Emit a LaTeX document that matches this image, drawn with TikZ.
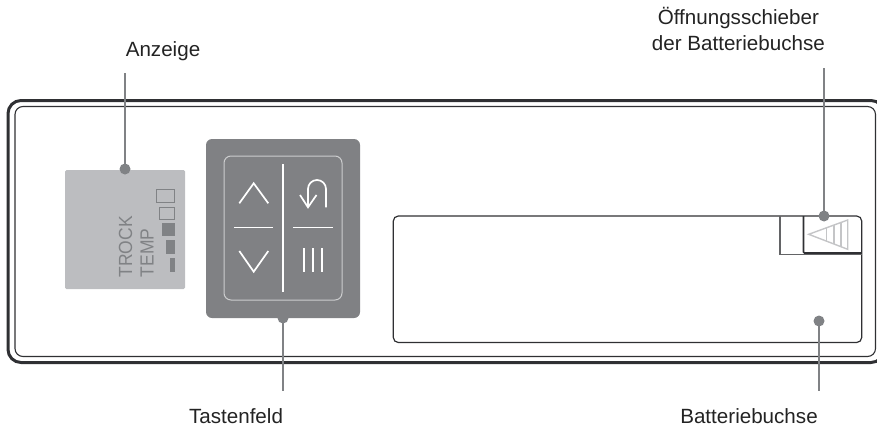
\documentclass[tikz,border=0pt]{standalone}
\usepackage{fontspec}
\setmainfont{Liberation Sans}
\definecolor{lbl}{HTML}{232323}
\definecolor{frame}{HTML}{2F3033}
\definecolor{lead}{HTML}{808285}
\definecolor{panel}{HTML}{BCBDC0}
\definecolor{pad}{HTML}{808184}
\definecolor{tri}{HTML}{C4C5C7}
\tikzset{
  lbltext/.style={font=\fontsize{20.6}{26}\selectfont,text=lbl,align=center,inner sep=0pt,anchor=base},
  leadline/.style={draw=lead,line width=1.4pt},
  leaddot/.style={circle,fill=lead,minimum size=11pt,inner sep=0pt},
  keyline/.style={draw=white,line width=1.7pt},
  seg/.style={draw=lead,line width=1pt},
  segfill/.style={fill=lead},
  disptext/.style={rotate=90,xscale=0.92,anchor=west,inner sep=0pt,font=\fontsize{19}{20}\selectfont,text=lead},
}
\begin{document}
\begin{tikzpicture}[x=1pt,y=-1pt]
\useasboundingbox (0,0) rectangle (877,428);
\clip (0,0) rectangle (877,428);
% housing
\draw[frame,line width=3pt,rounded corners=13pt] (8,100.5) rectangle (884,362.5);
\draw[frame,line width=1.1pt,rounded corners=8pt] (15,106.5) rectangle (875.5,356.5);
% display
\node[fill=panel,rounded corners=1.5pt,minimum width=120pt,minimum height=119pt,inner sep=0pt] (disp) at (125,229.5) {};
\node[disptext] (trock) at (125.5,277.5) {TROCK};
\node[disptext] (temp) at (147,277.5) {TEMP};
\draw[seg] (156,189.5) rectangle (174,202.5);
\draw[seg] (159.5,207) rectangle (174,219.5);
\fill[segfill] (162.3,223) rectangle (175,236.3);
\fill[segfill] (166.3,240) rectangle (175,254);
\fill[segfill] (170,258) rectangle (175,272);
% keypad leader first so the pad covers its dot
\coordinate (kbot) at (283,391);
\node[leaddot] (kdot) at (283,318) {};
\draw[leadline] (kdot.center) -- (kbot);
\node[fill=pad,rounded corners=6pt,minimum width=154pt,minimum height=179pt,inner sep=0pt] (keypad) at (283,228.5) {};
\draw[draw=white!60!pad,line width=1pt,rounded corners=7pt] (224,156) rectangle (342,300);
\draw[keyline,line width=1.3pt] (283,164) -- (283,292);
\draw[keyline,line width=1.3pt] (234,227.7) -- (273,227.7);
\draw[keyline,line width=1.3pt] (293.3,227.7) -- (332.7,227.7);
\draw[keyline] (239.3,203.3) -- (253.7,183.3) -- (268.3,203.3);
\draw[keyline] (239.3,251) -- (253.7,271.7) -- (268.3,251);
\draw[keyline] (304,248.3) -- (304,271.7) (313,248.3) -- (313,271.7) (322,248.3) -- (322,271.7);
\draw[keyline] (326,207.3) -- (326,189) arc[start angle=0,end angle=-180,x radius=9,y radius=9] -- (308,207.3);
\draw[keyline] (300,195) -- (308,207.3) -- (316.5,195);
% battery slot
\draw[frame,line width=1.2pt,rounded corners=5pt] (393.3,216) rectangle (861.7,342.5);
\draw[draw=frame!75!white,line width=1.1pt] (780,216) -- (780,254.3) -- (861.7,254.3);
\draw[draw=frame,line width=1.6pt,rounded corners=1pt] (803.5,216) -- (803.5,253) -- (861.7,253);
\draw[tri,line width=1.4pt] (808.7,234.3) -- (847.7,220) -- (847.7,249.3) -- cycle;
\draw[tri,line width=1.4pt] (826.7,227.5) -- (826.7,241.5) (834,225) -- (834,244.2) (841,222.5) -- (841,246.8);
% leaders and labels
\node[lbltext] (anz) at (163,56.7) {Anzeige};
\node[leaddot] (adot) at (125,169) {};
\coordinate (atop) at (125,73);
\draw[leadline] (atop) -- (adot.center);
\node[lbltext] (tast) at (236,423.3) {Tastenfeld};
\node[lbltext,anchor=base east] (oeff) at (825,50.7) {Öffnungsschieber\\der Batteriebuchse};
\node[leaddot] (odot) at (824,216) {};
\coordinate (otop) at (824,68);
\draw[leadline] (otop) -- (odot.center);
\node[lbltext] (batt) at (749,423.3) {Batteriebuchse};
\node[leaddot] (bdot) at (819,321) {};
\coordinate (bbot) at (819,391);
\draw[leadline] (bdot.center) -- (bbot);
\end{tikzpicture}
\end{document}
